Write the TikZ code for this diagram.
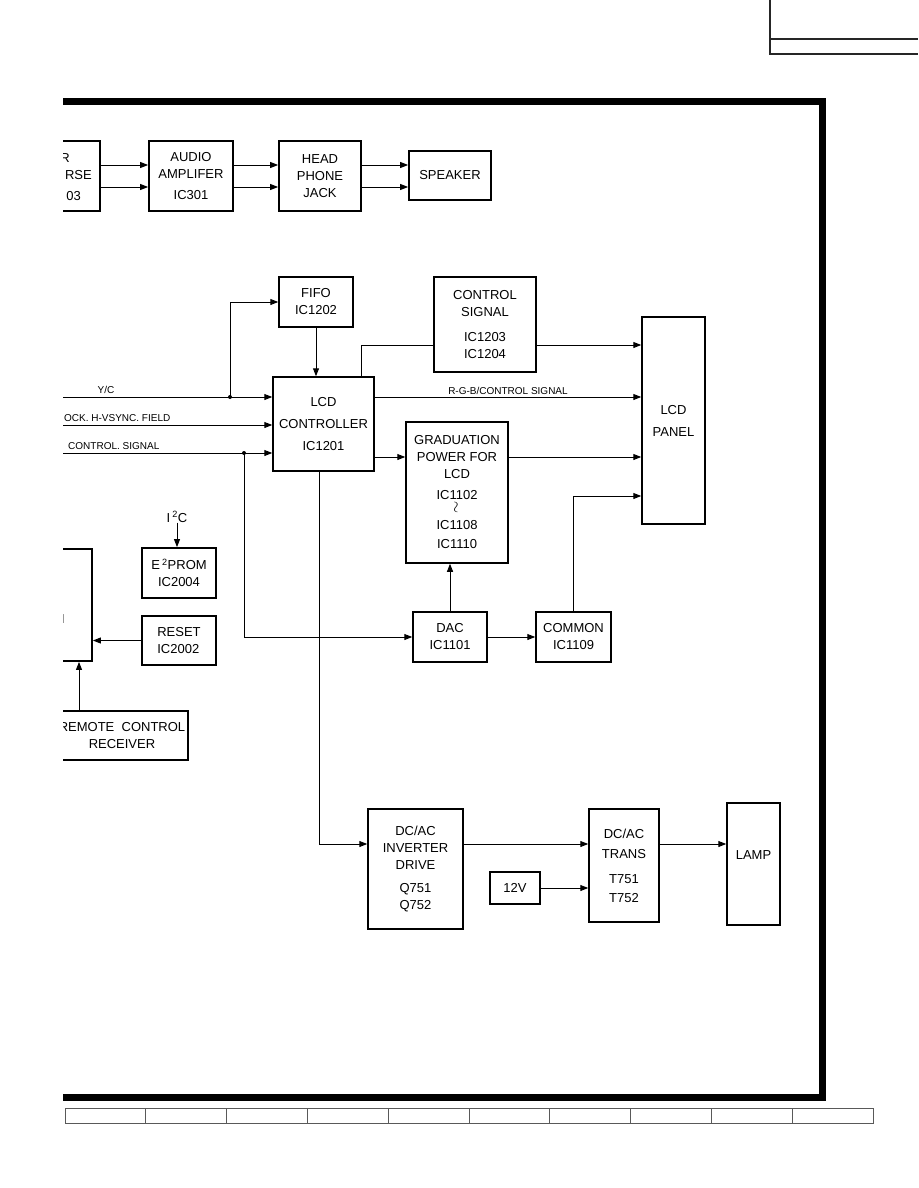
\documentclass[tikz,border=0pt]{standalone}
\usepackage{fontspec}
\setmainfont{Liberation Sans}
\usetikzlibrary{arrows.meta,calc}

\begin{document}
\begin{tikzpicture}[x=1pt,y=-1pt,>={Triangle[length=8pt,width=6pt]},
  blk/.style={draw,line width=1.8pt,align=center,inner sep=0pt,font=\fontsize{13}{17}\selectfont},
  txt/.style={inner sep=0pt,font=\fontsize{13}{17}\selectfont},
  sig/.style={inner sep=1pt,font=\fontsize{10}{12}\selectfont},
  wire/.style={line width=1pt,->},
  plain/.style={line width=1pt}]
  \useasboundingbox (0,0) rectangle (918,1188);
  \clip (63,0) rectangle (918,1188);

  \draw[line width=7pt] (63,101.5) -| (822.5,1097.5) -- (63,1097.5);
  \draw[line width=1.5pt,black!85] (770,0) -- (770,54) -- (918,54) (770,39) -- (918,39);
  \draw[line width=1pt,black!65] (65,1108) rectangle (873,1123);
  \foreach \i in {1,...,9}
    \draw[line width=1pt,black!65] ({65+80.8*\i},1108) -- ({65+80.8*\i},1123);

  \node[blk,minimum width=80,minimum height=70] (src) at (60,176) {};
  \node[txt,anchor=east] (srcA) at (70,158) {R};
  \node[txt,anchor=east] (srcB) at (92,175) {RSE};
  \node[txt,anchor=east] (srcC) at (81,196) {03};
  \node[blk,minimum width=84,minimum height=70] (audio) at (191,176) {AUDIO\\AMPLIFER\\[4pt]IC301};
  \node[blk,minimum width=82,minimum height=70] (phone) at (320,176) {HEAD\\PHONE\\JACK};
  \node[blk,minimum width=82,minimum height=49] (spk) at (450,175.5) {SPEAKER};

  \node[blk,line width=1.5pt,minimum width=74,minimum height=50] (fifo) at (316,302) {FIFO\\IC1202};
  \node[blk,line width=1.5pt,minimum width=101,minimum height=94] (lcdc) at (323.5,424) {LCD\\[5pt]CONTROLLER\\[5pt]IC1201};
  \node[blk,line width=1.5pt,minimum width=102,minimum height=95] (ctrl) at (485,324.5) {CONTROL\\SIGNAL\\[8pt]IC1203\\IC1204};
  \node[blk,line width=1.5pt,minimum width=63,minimum height=207] (panel) at (673.5,420.5) {LCD\\[5pt]PANEL};
  \node[blk,line width=1.5pt,minimum width=102,minimum height=141] (grad) at (457,492.5)
    {GRADUATION\\POWER FOR\\LCD\\[4pt]IC1102\\[-1pt]\raisebox{2pt}{\rotatebox{90}{\scalebox{1.3}{$\sim$}}}\\[-3pt]IC1108\\[2pt]IC1110};

  \node[blk,minimum width=72,minimum height=112] (mcu) at (56,605) {};
  \node[txt,anchor=east] (mcuA) at (65,619) {I};
  \node[txt] (i2c) at (177,517) {I\,\textsuperscript{2}C};
  \node[blk,minimum width=74,minimum height=50] (eep) at (179,573) {E\,\textsuperscript{2}PROM\\IC2004};
  \node[blk,align=left,minimum width=74,minimum height=49] (rst) at (179,640.5) {RESET\\IC2002};
  \node[blk,minimum width=132,minimum height=49] (remote) at (122,735.5) {REMOTE\ \ CONTROL\\RECEIVER};

  \node[blk,line width=1.5pt,minimum width=74,minimum height=50] (dac) at (450,637) {DAC\\IC1101};
  \node[blk,line width=1.5pt,minimum width=75,minimum height=50] (com) at (573.5,637) {COMMON\\IC1109};

  \node[blk,line width=1.5pt,minimum width=95,minimum height=120] (inv) at (415.5,869) {DC/AC\\INVERTER\\DRIVE\\[6pt]Q751\\Q752};
  \node[blk,line width=1.5pt,minimum width=70,minimum height=113] (trans) at (624,865.5) {DC/AC\\[3pt]TRANS\\[8pt]T751\\[2pt]T752};
  \node[blk,line width=1.5pt,minimum width=50,minimum height=32] (v12) at (515,888) {12V};
  \node[blk,line width=1.5pt,minimum width=53,minimum height=122,text depth=18pt] (lamp) at (753.5,864) {LAMP};

  \foreach \s in {11,-11} {
    \draw[wire] ([yshift=\s pt]src.east) -- ([yshift=\s pt]audio.west);
    \draw[wire] ([yshift=\s pt]audio.east) -- ([yshift=\s pt]phone.west);
    \draw[wire] ([yshift=\s pt]phone.east) -- ([yshift=\s pt]phone.east -| spk.west);
  }

  \coordinate (yc) at (63,397);
  \coordinate (clk) at (63,425);
  \coordinate (cs) at (63,453);
  \coordinate (j1) at (230,397);
  \coordinate (j2) at (244,453);
  \draw[wire] (yc) -- (yc -| lcdc.west);
  \draw[wire] (clk) -- (clk -| lcdc.west);
  \draw[wire] (cs) -- (cs -| lcdc.west);
  \fill (j1) circle (2);
  \fill (j2) circle (2);
  \node[sig,anchor=south] (ycl) at (106,395) {Y/C};
  \node[sig,anchor=south west] (clkl) at (63,423) {OCK. H-VSYNC. FIELD};
  \node[sig,anchor=south west] (csl) at (67,451) {CONTROL. SIGNAL};
  \draw[wire] (j1) |- (fifo.west);
  \draw[wire] (fifo.south) -- (fifo.south |- lcdc.north);
  \draw[wire] (j2) |- (dac.west);

  \draw[plain] ([xshift=37.5pt]lcdc.north) |- ([yshift=-20.5pt]ctrl.west);
  \draw[wire] ([yshift=-20.5pt]ctrl.east) -- ([yshift=-20.5pt]ctrl.east -| panel.west);
  \draw[wire] ([yshift=27pt]lcdc.east) -- ([yshift=27pt]lcdc.east -| panel.west)
    node[sig,midway,above,yshift=1pt] {R-G-B/CONTROL SIGNAL};
  \draw[wire] ([yshift=-33pt]lcdc.east) -- ([yshift=-33pt]lcdc.east -| grad.west);
  \draw[wire] ([yshift=-33pt]lcdc.east -| grad.east) -- ([yshift=-33pt]lcdc.east -| panel.west);
  \draw[wire] (com.north) |- ([yshift=-75.5pt]panel.west);
  \draw[wire] (dac.north) -- (dac.north |- grad.south);
  \draw[wire] (dac) -- (com);

  \draw[wire] (i2c.south) -- (i2c.south |- eep.north);
  \draw[wire] (rst) -- (rst -| mcu.east);
  \draw[wire] ([xshift=-43pt]remote.north) -- ([xshift=-43pt]remote.north |- mcu.south);

  \draw[wire] ([xshift=-4.5pt]lcdc.south) |- ([yshift=25pt]inv.west);
  \draw[wire] ([yshift=25pt]inv.east) -- ([yshift=25pt]inv.east -| trans.west);
  \draw[wire] (v12) -- (v12 -| trans.west);
  \draw[wire] ([yshift=25pt]inv.east -| trans.east) -- ([yshift=25pt]inv.east -| lamp.west);
\end{tikzpicture}
\end{document}
